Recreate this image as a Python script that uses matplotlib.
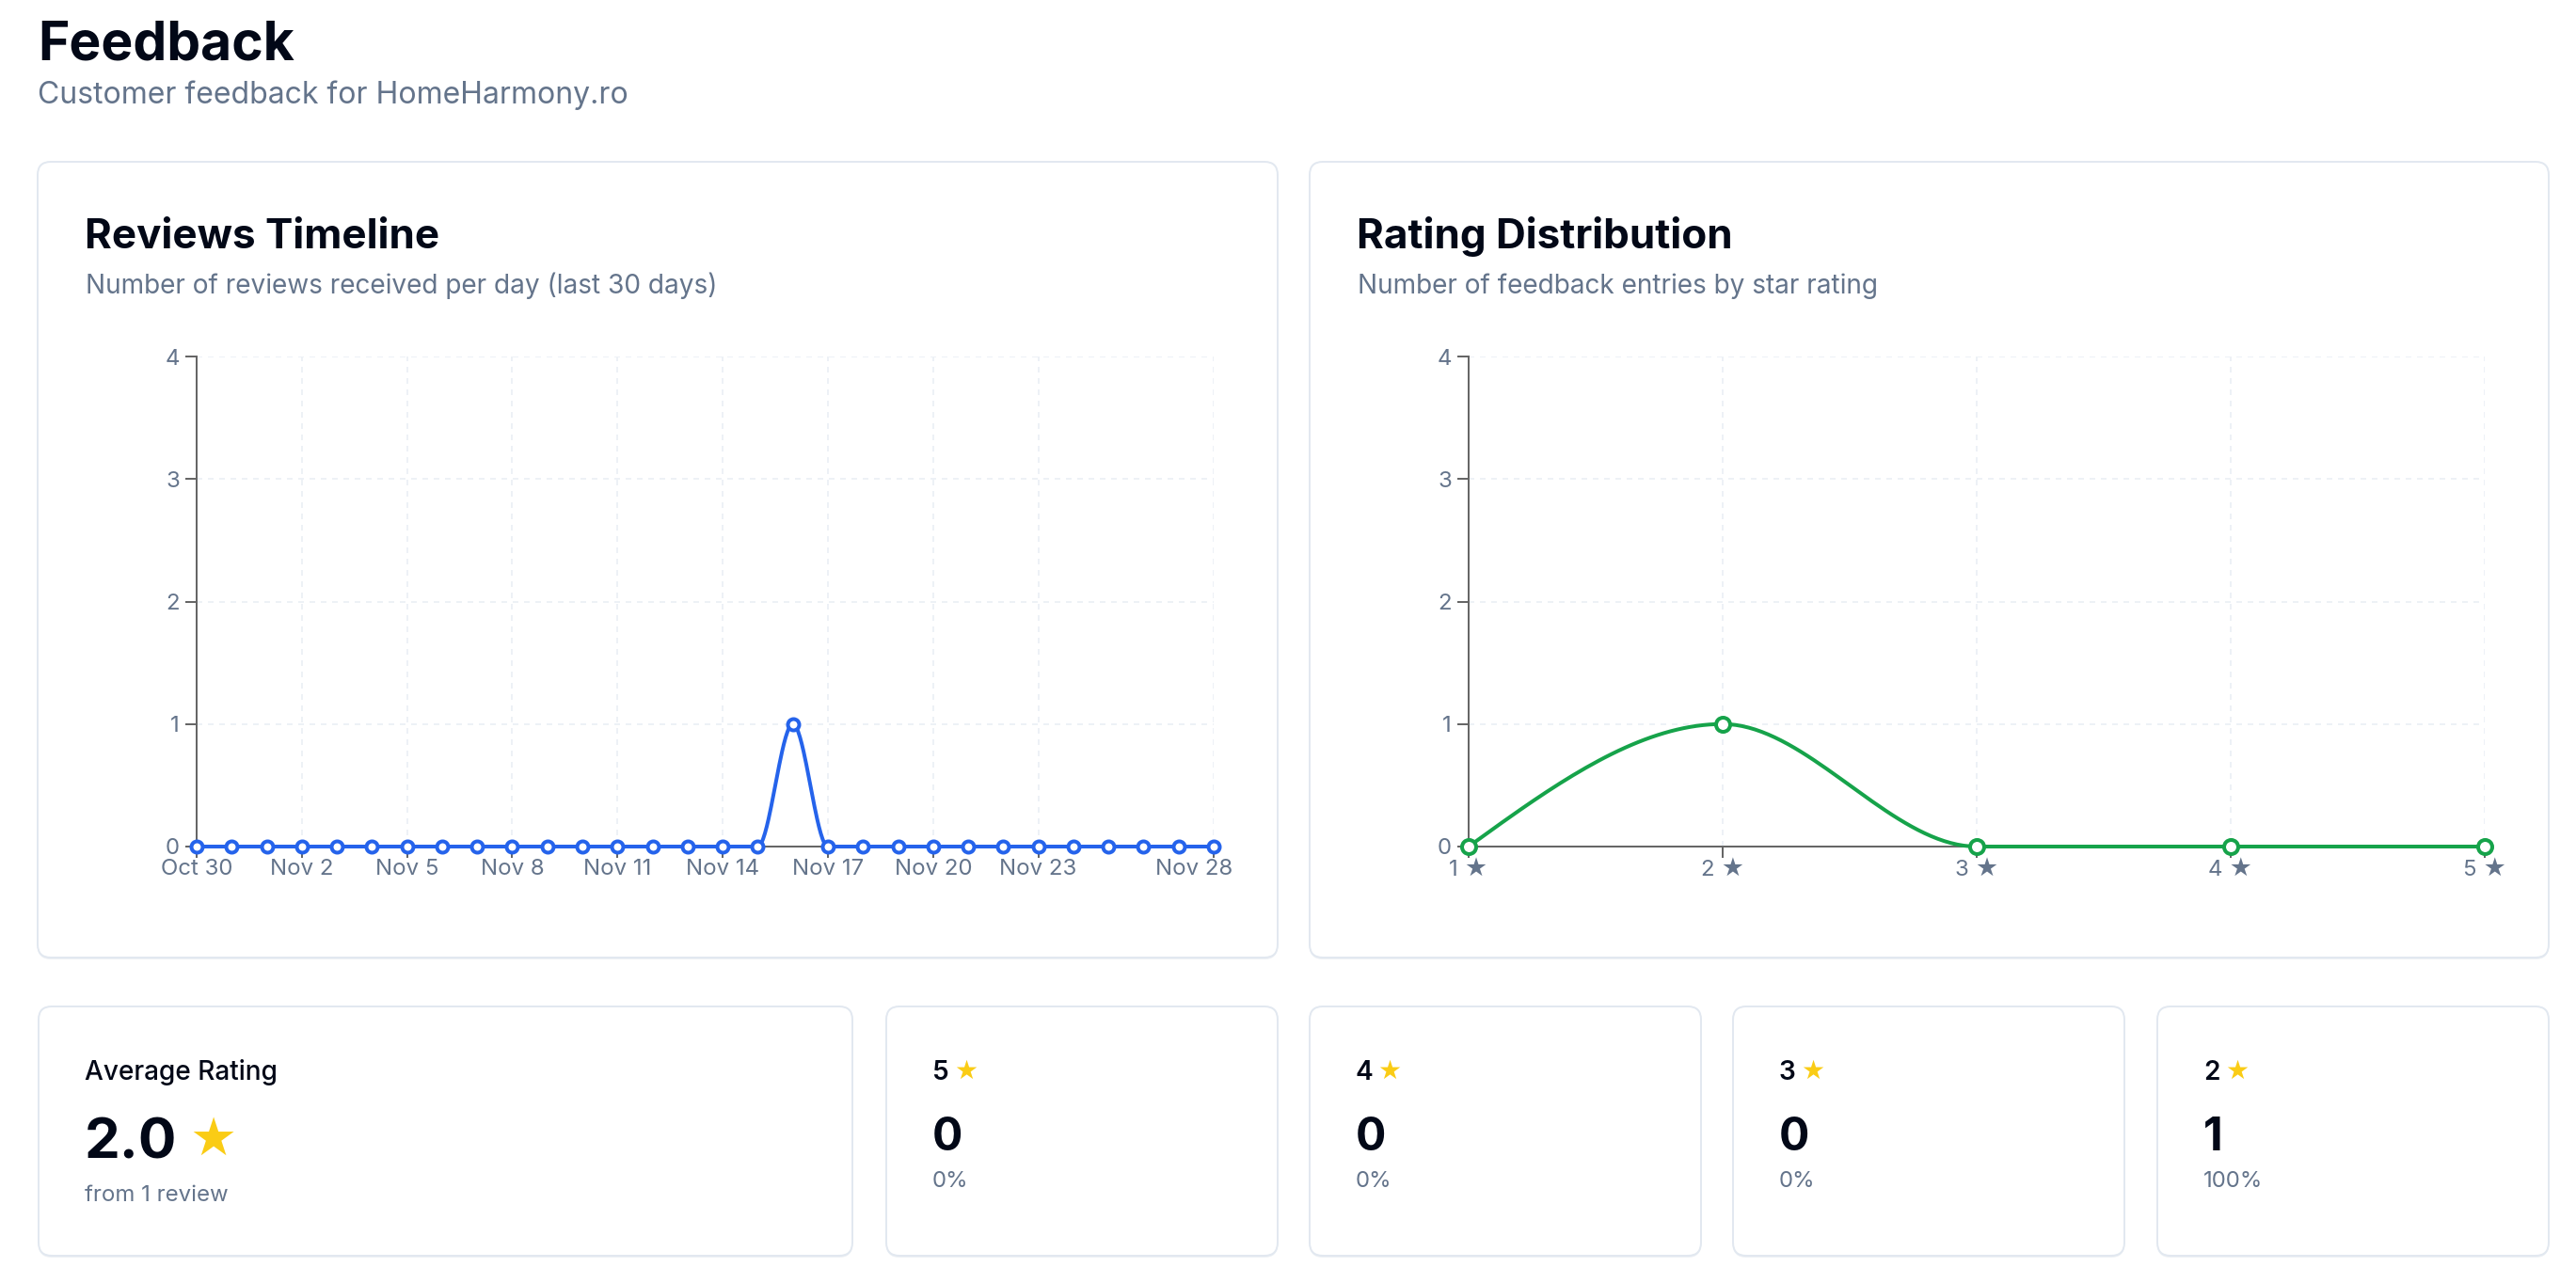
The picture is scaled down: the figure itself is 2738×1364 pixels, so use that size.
import numpy as np
import matplotlib.pyplot as plt
from matplotlib.patches import FancyBboxPatch
from matplotlib.transforms import ScaledTranslation

plt.rcParams['font.family'] = ['Inter', 'DejaVu Sans']

# Data
days = ["Oct 30", "Oct 31", "Nov 1", "Nov 2", "Nov 3", "Nov 4", "Nov 5", "Nov 6",
        "Nov 7", "Nov 8", "Nov 9", "Nov 10", "Nov 11", "Nov 12", "Nov 13", "Nov 14",
        "Nov 15", "Nov 16", "Nov 17", "Nov 18", "Nov 19", "Nov 20", "Nov 21", "Nov 22",
        "Nov 23", "Nov 24", "Nov 25", "Nov 26", "Nov 27", "Nov 28"]
reviews_per_day = [0, 0, 0, 0, 0, 0, 0, 0, 0, 0, 0, 0, 0, 0, 0, 0,
                   0, 1, 0, 0, 0, 0, 0, 0, 0, 0, 0, 0, 0, 0]
tick_days = ["Oct 30", "Nov 2", "Nov 5", "Nov 8", "Nov 11", "Nov 14",
             "Nov 17", "Nov 20", "Nov 23", "Nov 28"]

star_labels = ["1 ★", "2 ★", "3 ★", "4 ★", "5 ★"]
star_values = [1, 2, 3, 4, 5]
star_counts = [0, 1, 0, 0, 0]
card_stars = [5, 4, 3, 2]
y_ticks = [0, 1, 2, 3, 4]

DARK = '#020817'
SLATE = '#64748b'
BLUE = '#2563eb'
GREEN = '#16a34a'
W, H = 2738, 1364
PT = 0.72  # points per pixel at dpi 100


def monotone_curve(xs, ys, steps=40):
    # same as d3 curveMonotoneX
    xs = np.asarray(xs, float)
    ys = np.asarray(ys, float)
    n = len(xs)
    h = np.diff(xs)
    s = np.diff(ys) / h
    t = np.zeros(n)
    for i in range(1, n - 1):
        p = (s[i - 1] * h[i] + s[i] * h[i - 1]) / (h[i - 1] + h[i])
        sg = (1 if s[i - 1] >= 0 else -1) + (1 if s[i] >= 0 else -1)
        t[i] = sg * min(abs(s[i - 1]), abs(s[i]), 0.5 * abs(p))
    t[0] = (3 * s[0] - t[1]) / 2
    t[-1] = (3 * s[-1] - t[-2]) / 2
    px, py = [], []
    u = np.linspace(0, 1, steps)
    for i in range(n - 1):
        h00 = 2 * u**3 - 3 * u**2 + 1
        h10 = u**3 - 2 * u**2 + u
        h01 = -2 * u**3 + 3 * u**2
        h11 = u**3 - u**2
        px.append(xs[i] + u * h[i])
        py.append(h00 * ys[i] + h10 * h[i] * t[i] + h01 * ys[i + 1] + h11 * h[i] * t[i + 1])
    return np.concatenate(px), np.concatenate(py)


fig = plt.figure(figsize=(W / 100, H / 100), dpi=100)
bg = fig.add_axes([0, 0, 1, 1])
bg.set_xlim(0, W)
bg.set_ylim(H, 0)
bg.axis('off')


def card(x0, y0, x1, y1):
    style = 'round,pad=0,rounding_size=14'
    bg.add_patch(FancyBboxPatch((x0, y0 + 2), x1 - x0, y1 - y0, boxstyle=style,
                                fc='#eef1f5', ec='none', zorder=0))
    bg.add_patch(FancyBboxPatch((x0, y0), x1 - x0, y1 - y0, boxstyle=style,
                                fc='white', ec='#e2e8f0', lw=2 * PT, zorder=1))


def txt(x, y, s, px, color=DARK, weight='normal', **kw):
    bg.text(x, y, s, fontsize=px * PT, color=color, fontweight=weight,
            va='baseline', ha='left', zorder=2, **kw)


# header
txt(40, 63, "Feedback", 57, weight='bold')
txt(40, 110, "Customer feedback for HomeHarmony.ro", 32, color=SLATE)

# top cards
card(40, 172, 1358, 1018)
card(1392, 172, 2709, 1018)
txt(90, 264, "Reviews Timeline", 44, weight='bold')
txt(91, 312, "Number of reviews received per day (last 30 days)", 28, color=SLATE)
txt(1442, 264, "Rating Distribution", 44, weight='bold')
txt(1443, 312, "Number of feedback entries by star rating", 28, color=SLATE)


def px_axes(left, top, right, bottom):
    ax = fig.add_axes([left / W, 1 - bottom / H, (right - left) / W, (bottom - top) / H])
    ax.patch.set_alpha(0)
    for side in ['top', 'right']:
        ax.spines[side].set_visible(False)
    for side in ['left', 'bottom']:
        ax.spines[side].set_color('#666666')
        ax.spines[side].set_linewidth(2 * PT)
        ax.spines[side].set_zorder(2)
    ax.tick_params(axis='both', length=12 * PT, width=2 * PT, color='#666666',
                   labelcolor=SLATE, labelsize=24 * PT)
    ax.tick_params(axis='y', pad=6 * PT)
    ax.tick_params(axis='x', pad=1)
    ax.set_axisbelow(True)
    ax.grid(True, color='#edf1f6', lw=2 * PT, linestyle=(0, (3, 3)))
    ax.set_ylim(0, 4)
    ax.set_yticks(y_ticks)
    return ax


# Reviews timeline
ax1 = px_axes(209, 379, 1290, 900)
x1 = np.arange(len(days))
ax1.set_xlim(0, len(days) - 1)
ax1.set_xticks([days.index(d) for d in tick_days])
ax1.set_xticklabels(tick_days)
# last label is kept inside the chart box
last = ax1.get_xticklabels()[-1]
last.set_transform(last.get_transform() + ScaledTranslation(-0.21, 0, fig.dpi_scale_trans))
cx, cy = monotone_curve(x1, reviews_per_day)
ax1.plot(cx, cy, color=BLUE, lw=4 * PT, clip_on=False, zorder=3)
ax1.plot(x1, reviews_per_day, ls='none', marker='o', ms=12 * PT, mfc='white',
         mec=BLUE, mew=4 * PT, clip_on=False, zorder=4)

# Rating distribution
ax2 = px_axes(1561, 379, 2641, 900)
x2 = np.arange(len(star_labels))
ax2.set_xlim(0, len(star_labels) - 1)
ax2.set_xticks(x2)
ax2.set_xticklabels(star_labels)
cx, cy = monotone_curve(x2, star_counts)
ax2.plot(cx, cy, color=GREEN, lw=4 * PT, clip_on=False, zorder=3)
ax2.plot(x2, star_counts, ls='none', marker='o', ms=15 * PT, mfc='white',
         mec=GREEN, mew=4 * PT, clip_on=False, zorder=4)

# bottom cards
total = sum(star_counts)
avg = sum(v * c for v, c in zip(star_values, star_counts)) / total
card(41, 1070, 906, 1335)
txt(90, 1148, "Average Rating", 28, weight='medium')
txt(90, 1232, f"{avg:.1f}", 60, weight='bold')
bg.text(226, 1228, "★", fontsize=56 * PT, color='#facc15', family='DejaVu Sans',
        ha='center', va='baseline', zorder=2)
txt(90, 1277, f"from {total} review" + ("" if total == 1 else "s"), 24, color=SLATE)

card_lefts = [942, 1392, 1842, 2293]
for left, star in zip(card_lefts, card_stars):
    count = star_counts[star_values.index(star)]
    x0 = left + 49
    card(left, 1070, left + 416, 1335)
    txt(x0, 1148, str(star), 28, weight='semibold')
    bg.text(x0 + 36, 1147, "★", fontsize=28 * PT, color='#facc15', family='DejaVu Sans',
            ha='center', va='baseline', zorder=2)
    txt(x0, 1223, str(count), 48, weight='bold')
    txt(x0, 1262, f"{round(100 * count / total)}%", 24, color=SLATE)

fig.savefig('out.png', dpi=100)
